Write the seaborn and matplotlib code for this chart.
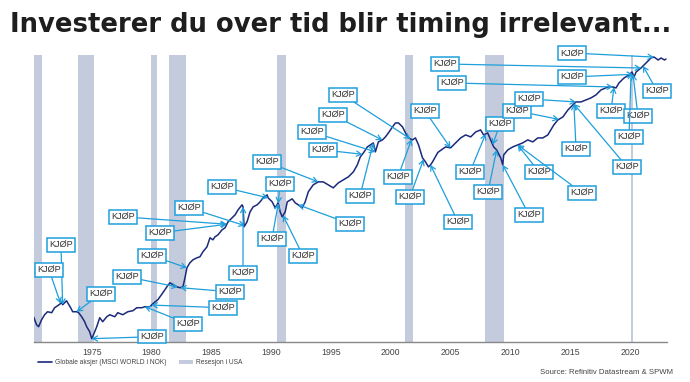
import numpy as np
import matplotlib
matplotlib.use("Agg")
import matplotlib.pyplot as plt
import seaborn as sns
from matplotlib.lines import Line2D
from matplotlib.patches import Patch

# ---------------- data ----------------
years = [1970.14, 1970.39, 1970.56, 1970.81, 1971.06, 1971.31, 1971.65, 1971.90, 1972.15, 1972.49,
         1972.57, 1972.90, 1972.99, 1973.24, 1973.41, 1973.74, 1973.91, 1974.16, 1974.41, 1974.58,
         1974.83, 1975.00, 1975.08, 1975.42, 1975.67, 1975.92, 1976.26, 1976.51, 1976.93, 1977.18,
         1977.60, 1978.02, 1978.44, 1978.77, 1979.19, 1979.44, 1979.86, 1980.11, 1980.53, 1980.95,
         1981.29, 1981.54, 1981.79, 1982.12, 1982.38, 1982.63, 1982.80, 1982.96, 1983.21, 1983.47,
         1983.80, 1984.05, 1984.30, 1984.64, 1984.89, 1985.14, 1985.31, 1985.56, 1985.90, 1986.15,
         1986.40, 1986.57, 1986.99, 1987.24, 1987.57, 1987.66, 1987.74, 1987.99, 1988.24, 1988.50,
         1988.83, 1989.08, 1989.33, 1989.67, 1989.75, 1990.09, 1990.34, 1990.59, 1990.76, 1990.93,
         1991.18, 1991.35, 1991.76, 1992.02, 1992.27, 1992.60, 1992.85, 1993.11, 1993.52, 1993.94,
         1994.36, 1994.78, 1995.20, 1995.62, 1996.04, 1996.46, 1996.88, 1997.21, 1997.46, 1997.72,
         1998.05, 1998.30, 1998.55, 1998.72, 1998.97, 1999.31, 1999.56, 1999.81, 2000.15, 2000.40,
         2000.65, 2000.99, 2001.24, 2001.49, 2001.82, 2002.07, 2002.33, 2002.66, 2002.91, 2003.16,
         2003.33, 2003.50, 2003.92, 2004.00, 2004.59, 2005.01, 2005.43, 2005.85, 2006.27, 2006.69,
         2007.11, 2007.52, 2007.77, 2008.11, 2008.36, 2008.61, 2008.86, 2009.20, 2009.37, 2009.45,
         2009.79, 2010.21, 2010.62, 2011.04, 2011.46, 2011.88, 2012.30, 2012.72, 2013.14, 2013.39,
         2013.64, 2013.98, 2014.40, 2014.82, 2015.23, 2015.49, 2015.91, 2016.33, 2016.74, 2017.16,
         2017.58, 2018.17, 2018.59, 2018.84, 2019.09, 2019.51, 2019.93, 2020.18, 2020.35, 2020.52,
         2020.93, 2021.35, 2021.77, 2022.02, 2022.36, 2022.60, 2022.90, 2023.02]
msci_world_nok = [25, 17, 15, 22, 27, 30, 29, 34, 36, 39,
                  37, 41, 39, 34, 30, 30, 29, 25, 20, 15,
                  10, 3, 5, 15, 24, 20, 25, 27, 25, 29,
                  27, 30, 31, 34, 34, 35, 35, 38, 42, 49,
                  55, 59, 57, 55, 54, 55, 64, 74, 79, 82,
                  84, 85, 90, 95, 104, 102, 105, 107, 112, 114,
                  120, 122, 127, 132, 137, 135, 115, 120, 130, 135,
                  137, 140, 144, 147, 144, 140, 134, 139, 130, 125,
                  130, 140, 143, 139, 137, 134, 140, 150, 157, 160,
                  160, 157, 154, 159, 162, 165, 170, 177, 185, 189,
                  195, 197, 199, 190, 200, 202, 205, 209, 215, 219,
                  219, 215, 209, 204, 202, 204, 197, 184, 180, 175,
                  177, 180, 189, 190, 195, 194, 199, 204, 207, 205,
                  210, 212, 207, 209, 202, 195, 192, 184, 177, 187,
                  192, 195, 197, 199, 202, 200, 204, 204, 207, 212,
                  217, 222, 225, 232, 237, 240, 240, 242, 244, 247,
                  252, 255, 255, 254, 259, 264, 267, 270, 265, 270,
                  274, 279, 284, 285, 282, 284, 282, 283]

recession_start = [1969.92, 1973.87, 1980.00, 1981.50, 1990.50, 2001.17, 2007.92, 2020.08]
recession_end = [1970.87, 1975.21, 1980.50, 1982.87, 1991.21, 2001.87, 2009.46, 2020.29]

buy_dates = [1972.57, 1972.40, 1973.74, 1975.00, 1982.20, 1979.44, 1982.96, 1986.30, 1986.30, 1987.80,
             1982.40, 1980.00, 1989.75, 1990.60, 1987.66, 1990.60, 1991.00, 1992.27, 1993.94, 1997.63,
             1998.72, 1999.30, 2001.65, 1998.55, 2001.74, 2002.75, 2005.00, 2003.33, 2007.94, 2008.86,
             2008.53, 2009.37, 2010.62, 2010.62, 2014.06, 2015.49, 2015.32, 2015.32, 2018.67, 2018.59,
             2020.93, 2022.00, 2020.26, 2021.10, 2020.26, 2020.10]

year_ticks = [1975, 1980, 1985, 1990, 1995, 2000, 2005, 2010, 2015, 2020]

title = "Investerer du over tid blir timing irrelevant..."
buy_label = "KJØP"
line_label = "Globale aksjer (MSCI WORLD i NOK)"
rec_label = "Resesjon i USA"
source = "Source: Refinitiv Datastream & SPWM"

# ---------------- layout of the label boxes (year, level) ----------------
label_pos = [(1972.43, 97), (1971.43, 72), (1975.78, 48), (1980.04, 5), (1977.95, 65),
             (1983.05, 18), (1980.04, 86), (1980.71, 109), (1977.62, 125), (1983.14, 134),
             (1986.56, 50), (1985.98, 34), (1985.89, 155), (1990.74, 158), (1987.65, 69),
             (1990.07, 103), (1992.67, 86), (1996.60, 118), (1989.66, 180), (1994.33, 192),
             (1993.42, 210), (1995.17, 227), (1996.01, 247), (1997.43, 146), (2000.61, 165),
             (2001.61, 145), (2002.87, 231), (2005.63, 120), (2006.63, 170), (2008.14, 150),
             (2009.14, 218), (2011.57, 127), (2012.40, 170), (2016.00, 149), (2010.57, 231),
             (2011.57, 243), (2015.50, 193), (2019.76, 175), (2018.42, 231), (2005.13, 259),
             (2004.54, 278), (2015.16, 289), (2015.16, 265), (2022.27, 251), (2020.68, 226),
             (2019.93, 205)]

# ---------------- styling ----------------
sns.set_theme(style="white")
plt.rcParams['font.family'] = ['Liberation Sans', 'DejaVu Sans']

NAVY = "#1b2a7a"
REC = "#c3cbdd"
BLUE = "#1e9fdc"

fig = plt.figure(figsize=(6.9, 3.82), dpi=100)
W, H = 690, 382
ax = fig.add_axes([34.3 / W, 1 - 341.7 / H, (666.7 - 34.3) / W, (341.7 - 55) / H])

for s, e in zip(recession_start, recession_end):
    ax.axvspan(s, e, color=REC, lw=0, zorder=0)

sns.lineplot(x=years, y=msci_world_nok, ax=ax, color=NAVY, lw=1.1, zorder=2)

for d, (bx, by) in zip(buy_dates, label_pos):
    yv = np.interp(d, years, msci_world_nok)
    ax.annotate(buy_label, xy=(d, yv), xytext=(bx, by), textcoords='data',
                ha='center', va='center', fontsize=6.6, color='#333333',
                bbox=dict(boxstyle='square,pad=0.25', fc='white', ec=BLUE, lw=1.1),
                arrowprops=dict(arrowstyle='->,head_length=0.5,head_width=0.28',
                                color=BLUE, lw=0.9, shrinkA=0, shrinkB=0),
                annotation_clip=False, zorder=4)

ax.set_xlim(1970.2, 2023.08)
ax.set_ylim(0, 287)
ax.set_yticks([])
ax.set_xticks(year_ticks)
ax.set_xticklabels([str(t) for t in year_ticks])
ax.tick_params(axis='x', direction='out', length=2.5, width=0.8, color='#888888',
               labelsize=6.3, labelcolor='#444444', pad=2)
for sp in ['top', 'left', 'right']:
    ax.spines[sp].set_visible(False)
ax.spines['bottom'].set_color('#888888')
ax.spines['bottom'].set_linewidth(1.0)
ax.set_xlabel("")
ax.set_ylabel("")

fig.text(10 / W, 1 - 31.5 / H, title, ha='left', va='baseline', fontsize=18.6,
         fontweight='bold', family=['DejaVu Sans'], color='#1e1e1e')

handles = [Line2D([0], [0], color=NAVY, lw=1.2), Patch(facecolor=REC, edgecolor='none')]
fig.legend(handles, [line_label, rec_label], loc='center left',
           bbox_to_anchor=(38 / W, 1 - 362.5 / H), ncol=2, frameon=False,
           fontsize=4.8, handlelength=2.1, handleheight=0.6, handletextpad=0.45,
           columnspacing=1.8, labelcolor='#444444', borderaxespad=0, borderpad=0)

fig.text(673 / W, 1 - 373 / H, source, ha='right', va='center', fontsize=5.6, color='#444444')

fig.savefig("out.png", dpi=100)
